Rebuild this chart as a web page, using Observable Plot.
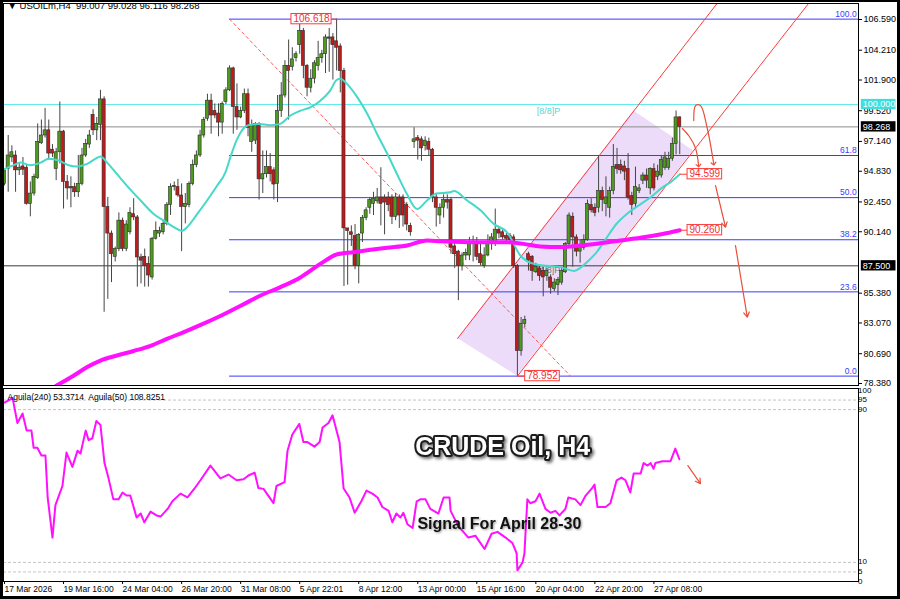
<!DOCTYPE html>
<html><head><meta charset="utf-8">
<script src="https://cdn.jsdelivr.net/npm/d3@7"></script>
<script src="https://cdn.jsdelivr.net/npm/@observablehq/plot@0.6"></script>
<style>
html,body{margin:0;padding:0;background:#fff;}
#chart{position:relative;width:900px;height:599px;overflow:hidden;background:#fff;}
#chart svg{position:absolute;left:0;}
#border{position:absolute;left:0;top:0;width:900px;height:599px;box-sizing:border-box;border-style:solid;border-color:#000;border-width:2px 3px 3px 3px;pointer-events:none;}
</style></head>
<body><div id="chart"></div>
<script>
// ---------------- DATA ----------------
const symbolHeader = "\u25BC USOILm,H4  99.007 99.028 96.116 98.268";
const indicatorHeader = "Aguila(240) 53.3714  Aguila(50) 108.8251";
const titleText = "CRUDE Oil, H4";
const subtitleText = "Signal For April 28-30";

// H4 candles [open, high, low, close], one per bar from 17 Mar 2026
const ohlc = [
[93.85,95.0,93.7,94.89],[95.0,97.6,93.2,96.05],[95.9,96.8,95.5,96.3],[96.05,96.4,93.2,94.9],[94.9,95.4,94.5,95.1],
[95.2,95.9,94.5,94.95],[95.1,95.3,92.2,92.3],[92.3,94.0,91.3,93.1],[93.1,94.6,92.9,94.4],[94.3,98.5,94.2,97.1],
[97.0,98.8,96.9,97.6],[97.6,99.7,97.4,98.0],[98.0,98.8,95.7,96.2],[96.5,96.9,95.9,96.2],[95.0,96.6,94.1,96.3],
[96.3,100.2,95.4,97.9],[97.9,98.0,91.9,94.0],[94.0,94.5,92.6,93.5],[93.6,94.4,92.0,93.5],[93.6,93.9,92.8,93.2],
[93.2,96.05,92.8,93.85],[93.85,96.6,93.7,96.05],[96.05,97.3,95.9,96.95],[96.9,98.0,96.6,97.6],[99.2,99.6,97.6,98.0],
[98.0,99.0,97.2,98.5],[98.4,101.1,97.2,100.4],[100.4,100.6,83.9,92.05],[92.05,92.8,84.9,90.0],[90.0,90.2,86.2,88.4],
[88.2,88.95,87.8,88.8],[88.8,91.6,88.6,91.0],[91.0,91.2,88.6,88.8],[88.8,91.0,88.6,90.7],[90.1,92.0,89.9,91.6],
[91.5,92.7,91.0,91.25],[91.25,91.4,85.85,88.15],[88.15,88.4,86.1,87.9],[88.2,88.8,85.85,87.5],[87.65,88.2,85.85,86.75],
[86.6,89.7,86.4,89.6],[89.6,90.9,89.5,90.2],[90.0,90.5,89.7,90.2],[90.1,91.0,89.9,90.75],[90.75,92.4,90.6,92.2],
[92.2,93.85,91.4,93.6],[93.6,94.0,93.3,93.7],[93.6,94.2,92.8,92.95],[92.95,93.85,88.6,92.05],[92.05,93.1,90.75,92.3],
[92.2,94.0,92.0,93.85],[93.85,95.7,93.7,95.3],[95.3,96.4,95.1,96.05],[96.05,98.0,95.9,97.6],[97.6,99.0,97.4,98.8],
[98.9,100.8,98.7,100.3],[100.3,100.8,97.7,99.15],[99.5,100.05,98.9,99.15],[99.3,100.05,97.5,98.6],[98.6,100.2,97.7,100.05],
[100.2,101.3,100.0,101.1],[101.1,103.0,101.0,102.8],[102.8,102.9,97.7,99.8],[99.8,101.6,98.0,99.0],[99.0,99.8,98.9,99.5],
[99.5,101.2,99.3,100.8],[100.8,101.2,97.5,98.2],[97.1,98.8,96.3,98.4],[97.2,98.6,96.9,98.5],[98.5,98.6,92.6,94.2],
[94.2,96.4,93.1,94.6],[94.6,96.4,94.3,95.15],[95.15,96.2,94.0,94.6],[94.9,95.1,92.6,93.8],[93.85,100.7,92.4,99.5],
[99.5,101.7,99.0,100.7],[100.7,103.4,100.5,103.0],[103.0,105.0,98.8,102.6],[102.9,104.4,102.6,103.5],[103.6,104.1,103.3,103.9],
[104.6,106.5,103.9,105.7],[105.7,105.9,102.0,103.0],[103.0,103.1,100.6,101.3],[101.3,102.7,100.9,102.0],[102.0,103.4,101.6,103.2],
[103.0,104.9,102.6,103.6],[103.6,104.2,103.2,103.9],[103.9,105.4,102.4,105.2],[105.2,105.9,102.5,105.1],[105.2,105.5,101.9,104.6],
[104.9,106.618,102.6,104.4],[104.5,104.7,100.9,102.6],[102.6,102.8,85.9,90.4],[90.4,90.4,86.0,90.2],[90.1,90.6,89.0,89.9],
[89.8,90.7,87.2,87.5],[87.5,90.0,86.1,89.9],[90.0,91.4,89.3,91.2],[91.2,92.0,91.0,91.8],[92.0,92.8,91.5,92.6],
[92.3,93.2,91.4,92.7],[92.5,93.5,92.3,92.8],[92.8,95.1,90.6,92.3],[92.8,93.0,89.9,92.4],[92.8,93.2,91.7,92.2],
[92.8,93.0,90.7,91.3],[91.3,93.1,91.0,92.8],[92.8,93.0,90.4,91.4],[92.8,93.0,90.5,91.4],[92.2,92.4,90.2,90.7],
[90.6,90.8,89.8,90.1],[97.1,98.2,96.6,97.3],[97.4,97.6,95.7,97.2],[97.3,97.5,95.6,96.6],[96.8,97.5,96.4,97.2],
[97.1,97.4,96.0,96.5],[96.5,96.6,92.4,92.8],[92.8,93.1,90.5,92.0],[91.4,92.3,90.7,92.0],[92.0,93.0,91.2,92.6],
[92.6,93.0,91.9,92.4],[92.6,92.8,88.4,88.9],[89.0,89.4,87.3,88.4],[88.6,88.7,84.8,87.5],[87.5,88.5,87.1,88.3],
[88.3,88.8,87.9,88.5],[88.3,89.7,87.9,89.2],[89.2,89.8,87.8,89.3],[89.3,89.7,87.9,88.2],[88.4,89.3,87.5,87.7],
[87.5,88.9,87.3,88.3],[88.3,89.9,88.2,89.3],[89.3,90.0,88.7,89.7],[89.3,91.9,89.0,90.3],[90.3,90.5,89.6,90.0],
[90.1,90.4,89.5,89.7],[89.8,90.0,89.3,89.6],[89.8,90.0,89.2,89.5],[89.7,89.9,87.3,87.5],[87.5,87.6,78.952,80.9],
[80.9,83.5,80.5,83.0],[83.0,83.6,82.7,83.3],[88.4,88.55,87.1,87.9],[88.2,88.3,86.3,87.1],[87.0,87.7,86.9,87.4],
[87.3,87.5,86.3,86.7],[87.1,87.4,85.1,86.6],[86.7,87.3,86.3,87.1],[86.6,86.8,85.3,85.8],[85.7,86.5,85.5,86.2],
[86.0,86.6,85.2,86.4],[86.2,87.4,86.0,87.1],[87.0,89.3,86.9,89.2],[89.2,91.6,88.9,91.4],[91.3,91.6,87.4,89.7],
[89.7,89.9,88.2,88.6],[88.6,89.5,87.7,89.0],[88.9,89.9,88.7,89.5],[89.5,92.6,89.4,92.3],[92.2,92.7,91.6,91.8],
[92.0,92.3,91.3,91.6],[92.0,96.05,91.6,93.3],[93.3,93.6,91.7,92.6],[92.3,94.4,91.3,92.8],[92.0,93.6,91.2,93.3],
[93.3,96.9,93.0,95.15],[95.3,96.6,94.6,95.0],[95.3,95.7,94.6,94.9],[95.2,95.6,94.1,94.8],[95.0,96.2,92.6,92.8],
[92.9,93.2,91.4,92.2],[92.3,95.15,92.0,93.6],[93.3,93.8,93.1,93.5],[94.1,94.7,93.8,94.5],[94.5,95.0,93.5,94.1],
[93.5,95.1,93.0,95.0],[95.0,95.4,93.3,93.5],[94.4,95.3,94.1,94.8],[94.5,96.0,94.3,95.7],[95.1,96.3,94.9,95.9],
[95.1,96.3,94.9,95.8],[95.8,97.4,95.6,96.95],[96.95,99.5,96.1,99.0],[99.007,99.028,96.116,98.268]
];

// moving averages [bar, price]
const maFast = [[0,95.0],[2.5,95.3],[4.3,95.5],[7,95.3],[9.8,95.5],[12,95.8],[14.7,95.66],[17.4,95.3],[19.7,95.2],[22.4,95.4],
[24.7,95.8],[26,95.97],[27.8,95.5],[30.5,94.6],[33.2,93.7],[36.9,92.56],[40.5,91.5],[43.2,91.0],[45.9,90.5],[48.1,90.2],
[49.5,90.5],[52.2,91.5],[54.9,92.56],[57.6,93.7],[59.9,94.76],[61.2,95.9],[63,97.3],[66,98.4],[69,98.5],[72,98.4],[74.7,98.5],
[77.5,99.15],[80,99.5],[83,99.8],[85.6,100.3],[88.3,101.1],[90,101.9],[91,102.0],[92.8,101.6],[95.6,100.57],[98.3,99.28],
[101,97.7],[103.7,96.2],[106.4,94.6],[109,93.1],[111.8,91.9],[114.5,92.56],[117,93.1],[120.8,93.2],[121.8,93.3],[125.4,92.56],
[129,91.8],[132.6,90.75],[136.2,90.1],[139.8,88.3],[143.4,87.65],[147,87.5],[150.7,87.4],[154.3,87.1],[157.9,87.8],[160.6,88.6],
[163,89.6],[166,90.8],[169,91.6],[172,92.2],[175,92.8],[178,93.5],[181,94.1],[183,94.599]];
const maSlow = [[14,78.2],[18.8,79.0],[22.4,79.65],[26,80.16],[30.5,80.55],[35,80.9],[39.6,81.3],[44,81.84],[48.6,82.36],[53,82.9],
[57.6,83.5],[61.2,84.0],[64,84.4],[69.4,85.2],[74.8,85.85],[80.2,86.6],[85.6,87.65],[90.2,88.4],[94.7,88.56],[99.2,88.74],
[103.7,88.9],[109.1,89.07],[114.5,89.46],[118.2,89.41],[127.2,89.33],[136.2,89.33],[140.7,89.2],[145.2,89.0],[150.6,88.95],
[156,89.07],[161.4,89.25],[166.9,89.46],[172.3,89.67],[178,89.95],[183,90.26]];

// oscillator (lower pane) [bar, value]
const aguila = [[0,93.7],[2.2,96],[3.5,83],[4.9,88],[6,79],[7.3,79],[7.9,70],[8.9,70],[10,66],[11.1,66],[11.7,44],[13,23],[13.8,40],
[15.7,50],[16.8,67.5],[18.4,60],[19.8,68.5],[20.6,67],[22,79],[22.8,74],[23.8,75],[24.9,84],[26,82],[27.1,62],[28.2,54],[29.5,43],
[30.9,43],[32,46.6],[33.1,45],[34.1,45],[35.8,33.5],[36.9,35.6],[37.9,31],[39.6,36.6],[41.2,34.6],[42.3,34],[44.2,38],[45.5,42],
[47.7,46],[49.6,44],[51.5,48.7],[53.1,53],[55.8,60.7],[58.5,54],[60.7,56],[62.9,53],[64.8,53.5],[66.1,55.5],[67.8,57],[68.8,49],
[70.2,48.5],[72.9,41],[73.7,50],[75.9,52],[76.7,68.5],[78,77],[79.9,82.5],[81,73],[82.1,73],[84,70.6],[85.4,73],[86.2,80.6],
[87.8,83],[88.9,87],[90.8,73],[91.9,48.7],[93.5,44],[94.9,36],[96.7,42],[98.1,47.6],[99.7,46],[101.1,44],[102.4,39],[104.1,37],
[105.1,31],[106.2,35.6],[107.3,33.5],[108.1,36],[109.2,30],[110.6,28],[111.7,42],[112.7,43],[114.1,43],[115.4,38],[117.6,35.6],
[119,44],[120.6,44],[120.9,37],[123,29],[125.7,23],[127.6,24],[130.1,17],[132,25],[133.6,26],[135.8,23],[137.7,20],[138.8,14.7],
[139,5.8],[140.4,10],[140.9,14.7],[141.7,43],[142.5,41],[143.9,42],[145,46],[146.6,38],[148,36],[149.3,37],[150.4,34.6],[152,38],
[152.8,44],[154.7,43],[156.1,40],[157.5,45],[159.3,49],[159.9,50.8],[160.7,39],[162.9,39],[164.2,41],[165.9,53],[167.2,54.4],
[168.3,53],[169.6,46.6],[170.5,56.5],[172.4,56.5],[173.2,62],[174.3,60.7],[175.1,62],[175.9,59],[176.4,62],[178.3,63],[180.5,63],
[181.8,69.6],[182.9,64]];
const aguilaLevels = [95, 90, 10, 5];
const aguilaTicks = [100, 95, 90, 10, 5, 0];

// price axis ticks
const priceTicks = [106.59, 104.21, 101.90, 99.52, 97.14, 94.83, 92.45, 90.14, 85.38, 83.07, 80.69, 78.38];

// time axis: bar index -> label
const timeBars = [0, 16, 32, 48, 64, 80, 96, 112, 128, 144, 160, 176];
const timeLabels = ["17 Mar 2026", "19 Mar 16:00", "24 Mar 04:00", "26 Mar 20:00", "31 Mar 08:00", "5 Apr 22:01",
  "8 Apr 12:00", "13 Apr 00:00", "15 Apr 16:00", "20 Apr 04:00", "22 Apr 20:00", "27 Apr 08:00"];

// Fibonacci retracement 106.618 -> 78.952
const fibHigh = 106.618, fibLow = 78.952, fibStartBar = 61;
const fibRatios = [100.0, 61.8, 50.0, 38.2, 23.6, 0.0];
const fibTrend = [[61, 106.618], [153.4, 78.952]];

// horizontal levels
const levelPivot = 100.000, levelBid = 98.268, levelSupport = 87.500;
const murreyLabels = [{text: "[8/8]P", bar: 147.4, price: 99.46}, {text: "[4/8]P", bar: 147.4, price: 87.14}];

// rising channel (two parallel lines) and its filled parallelogram
const channelUpper = [[122.8, 81.87], [193.1, 107.83]];
const channelLower = [[139.0, 78.952], [217.9, 107.83]];
const channelFill = [[122.8, 81.87], [139.0, 78.952], [186.7, 96.41], [170.5, 99.49]];

// price tags (red boxes)
const priceTags = [
  {text: "106.618", bar: 83.2, price: 106.618, from: 90.2},
  {text: "78.952", bar: 145.8, price: 78.952, from: 139},
  {text: "94.599", bar: 189.8, price: 94.599, from: 183},
  {text: "90.260", bar: 189.8, price: 90.26, from: 183}
];
// right-axis tags
const axisTags = [
  {text: "100.000", price: 100.0, fill: "#3fdede"},
  {text: "98.268", price: 98.268, fill: "#000"},
  {text: "87.500", price: 87.5, fill: "#000"}
];

// hand-drawn forecast arrows [bar, price]
const curvedArrows = [
  [[183.7, 98.14], [185.6, 97.52], [187.3, 96.59], [188.1, 95.27]],
  [[186.8, 98.76], [187.3, 99.92], [188.6, 99.92], [190.4, 98.22], [192.2, 95.41]]
];
const straightArrows = [
  {x1: 192.7, y1: 93.72, x2: 195.4, y2: 90.49},
  {x1: 198.1, y1: 89.07, x2: 201.3, y2: 83.52}
];
const oscArrow = [{x1: 185.2, y1: 60.7, x2: 188.6, y2: 51.2}];
const titlePos = {bar: 135, value: 70.2};
const subtitlePos = {bar: 134.1, value: 30.4};

// ---------------- LAYOUT ----------------
const FONT = "Liberation Sans, Arial, sans-serif";
const X_DOMAIN = [-0.271, 231.44];
const Y_MAIN = [78.225, 107.83];
const Y_OSC = [0, 101.05];
const PX_PER_BAR = 855 / (X_DOMAIN[1] - X_DOMAIN[0]);
const TAG_X1 = 232.2, TAG_X2 = 241.6;
const GREEN = "#4e9a1e", RED = "#c01b1b", BLUE = "#3a3aff", ARROW = "#e8503a";

const candles = ohlc.map((r, k) => ({i: k, o: r[0], h: r[1], l: r[2], c: r[3]}));

function interp(poly, x) {
  for (let k = 0; k < poly.length - 1; k++) {
    const [x0, y0] = poly[k], [x1, y1] = poly[k + 1];
    if (x >= x0 - 1e-9 && x <= x1 + 1e-9) return y0 + (y1 - y0) * (x - x0) / (x1 - x0);
  }
  return NaN;
}
const [P1, P2, P3, P4] = channelFill;
const band = [P1[0], P2[0], P4[0], P3[0]].sort((a, b) => a - b)
  .map(x => ({x, y1: interp([P1, P2, P3], x), y2: interp([P1, P4, P3], x)}));

const fibLevels = fibRatios.map(r => ({r, price: fibLow + (fibHigh - fibLow) * r / 100, label: r.toFixed(1)}));

function textWidth(t, fs) {
  let w = 0;
  for (const ch of t) w += (ch === "." ? 0.278 : 0.556);
  return w * fs;
}
const tagHalf = d => (textWidth(d.text, 10) / 2 + 2) / PX_PER_BAR;

// oscillator scale labels: edge labels are nudged inward like the terminal does
const oscLabelNudge = v => v === 100 ? 4 : v === 0 ? -8 : 0;

const style = {fontFamily: FONT, fontSize: "9px", background: "transparent", color: "#000", overflow: "visible"};

const main = Plot.plot({
  width: 900, height: 386,
  marginTop: 3, marginRight: 42, marginBottom: 1, marginLeft: 3,
  x: {domain: X_DOMAIN, axis: null},
  y: {domain: Y_MAIN, axis: null},
  style,
  marks: [
    Plot.areaY(band, {x: "x", y1: "y1", y2: "y2", fill: "#ecdcfa", curve: "linear"}),
    Plot.text(murreyLabels, {x: "bar", y: "price", text: "text", fontSize: 9,
      fill: (d) => d.text === "[8/8]P" ? "#55d6d6" : "#777"}),
    Plot.ruleY([levelPivot], {stroke: "#62eaea", strokeWidth: 1}),
    Plot.ruleY([levelBid], {stroke: "#8c8c8c", strokeWidth: 1}),
    Plot.ruleY([levelSupport], {stroke: "#3a3a3a", strokeWidth: 1}),
    Plot.ruleY(fibLevels, {y: "price", x1: fibStartBar, x2: X_DOMAIN[1], stroke: BLUE, strokeWidth: 1}),
    Plot.text(fibLevels, {x: X_DOMAIN[1] - 0.5, y: "price", text: "label", textAnchor: "end", dy: -5, fill: BLUE, fontSize: 8.5}),
    Plot.line(fibTrend, {x: d => d[0], y: d => d[1], stroke: "#ff5a5a", strokeWidth: 1, strokeDasharray: "3,3"}),
    Plot.line(channelUpper, {x: d => d[0], y: d => d[1], stroke: "#ff3a3a", strokeWidth: 1, clip: true}),
    Plot.line(channelLower, {x: d => d[0], y: d => d[1], stroke: "#ff3a3a", strokeWidth: 1, clip: true}),
    Plot.ruleX(candles, {x: "i", y1: "l", y2: "h", stroke: "#454545", strokeWidth: 1, clip: true}),
    Plot.rect(candles, {x1: d => d.i - 0.42, x2: d => d.i + 0.42,
      y1: d => Math.min(d.o, d.c), y2: d => Math.max(d.o, d.c) + (Math.abs(d.o - d.c) < 0.05 ? 0.05 : 0),
      fill: d => d.c >= d.o ? GREEN : RED, stroke: "#2b2b2b", strokeWidth: 0.6, clip: true}),
    Plot.line(maFast, {x: d => d[0], y: d => d[1], stroke: "#45d9c9", strokeWidth: 2, curve: "monotone-x", clip: true}),
    Plot.line(maSlow, {x: d => d[0], y: d => d[1], stroke: "#ff10ff", strokeWidth: 4, curve: "monotone-x", clip: true}),
    Plot.link(priceTags, {x1: "from", y1: "price", y2: "price",
      x2: d => d.from < d.bar ? d.bar - tagHalf(d) : d.bar + tagHalf(d), stroke: "#ff3a3a", strokeWidth: 1}),
    Plot.rect(priceTags, {x1: d => d.bar - tagHalf(d), x2: d => d.bar + tagHalf(d),
      y1: d => d.price - 0.4, y2: d => d.price + 0.4, fill: "#fff", stroke: "#ff3a3a", strokeWidth: 1}),
    Plot.text(priceTags, {x: "bar", y: "price", text: "text", fill: "#ee3030", fontSize: 10}),
    ...curvedArrows.map(a => Plot.line(a, {x: d => d[0], y: d => d[1], stroke: ARROW, strokeWidth: 1.2,
      curve: "catmull-rom", markerEnd: "arrow"})),
    Plot.arrow(straightArrows, {x1: "x1", y1: "y1", x2: "x2", y2: "y2", stroke: ARROW, strokeWidth: 1.2, headLength: 7}),
    Plot.axisY(priceTicks, {anchor: "right", tickSize: 3, tickPadding: 2, tickFormat: d => d.toFixed(3), label: null, fontSize: 9}),
    Plot.rect(axisTags, {x1: TAG_X1, x2: TAG_X2, y1: d => d.price - 0.4, y2: d => d.price + 0.4, fill: "fill"}),
    Plot.text(axisTags, {x: TAG_X1 + 0.4, y: "price", text: "text", textAnchor: "start", fill: "#fff", fontSize: 9}),
    Plot.text([symbolHeader], {frameAnchor: "top-left", dx: 4, dy: -1, fontSize: 9.5, fill: "#000"}),
    Plot.frame({stroke: "#000", strokeWidth: 1})
  ]
});
main.style.top = "0px";

const labelByBar = new Map(timeBars.map((b, k) => [b, timeLabels[k]]));

const lower = Plot.plot({
  width: 900, height: 214,
  marginTop: 3, marginRight: 42, marginBottom: 18, marginLeft: 3,
  x: {domain: X_DOMAIN, axis: null},
  y: {domain: Y_OSC, axis: null},
  style,
  marks: [
    Plot.ruleY(aguilaLevels, {stroke: "#c4c4c4", strokeDasharray: "3,2", strokeWidth: 1}),
    Plot.line(aguila, {x: d => d[0], y: d => d[1], stroke: "#ff10ff", strokeWidth: 2}),
    Plot.arrow(oscArrow, {x1: "x1", y1: "y1", x2: "x2", y2: "y2", stroke: ARROW, strokeWidth: 1.2, headLength: 7}),
    Plot.text([titleText], {x: titlePos.bar, y: titlePos.value, fontSize: 25, fontWeight: "bold",
      fill: "#fff", stroke: "#1c1c1c", strokeWidth: 4, paintOrder: "stroke"}),
    Plot.text([subtitleText], {x: subtitlePos.bar, y: subtitlePos.value, fontSize: 16, fontWeight: "bold", fill: "#111"}),
    Plot.text([indicatorHeader], {frameAnchor: "top-left", dx: 4, dy: 5, fontSize: 8.5, fill: "#000"}),
    Plot.text(aguilaTicks, {x: X_DOMAIN[1], y: d => d, dx: 4, dy: oscLabelNudge, text: d => String(d),
      textAnchor: "start", fontSize: 8, fill: "#000"}),
    Plot.axisX(timeBars, {anchor: "bottom", tickSize: 3, tickPadding: 1, tickFormat: d => labelByBar.get(d),
      textAnchor: "start", label: null, fontSize: 8.5}),
    Plot.frame({stroke: "#000", strokeWidth: 1})
  ]
});
lower.style.top = "385px";

// soft drop shadows on the headline texts
d3.select(lower).selectAll("text")
  .filter(function () { return this.textContent === titleText; })
  .style("filter", "drop-shadow(2px 2px 1.5px rgba(0,0,0,0.55))");
d3.select(lower).selectAll("text")
  .filter(function () { return this.textContent === subtitleText; })
  .style("filter", "drop-shadow(1.5px 1.5px 1px rgba(0,0,0,0.4))");

const chart = document.getElementById("chart");
chart.appendChild(main);
chart.appendChild(lower);
const border = document.createElement("div");
border.id = "border";
chart.appendChild(border);
</script>
</body></html>
